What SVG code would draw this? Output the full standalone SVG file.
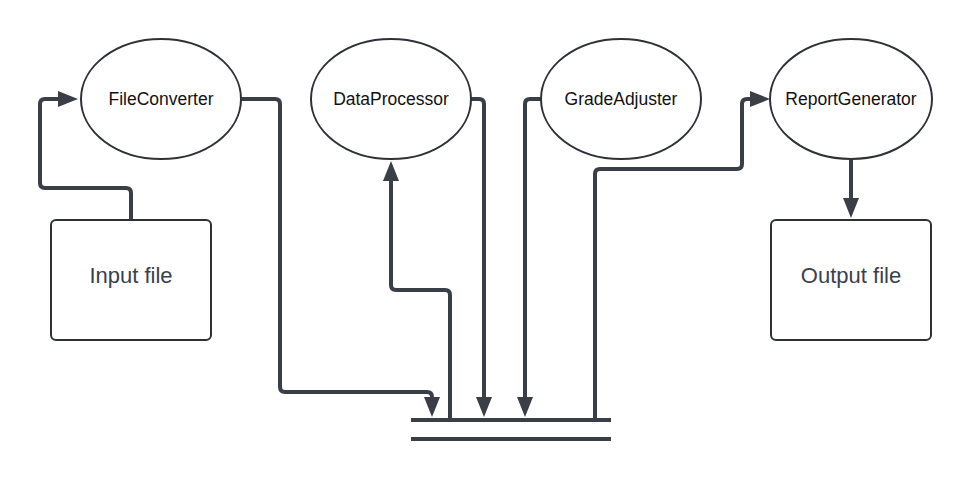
<svg xmlns="http://www.w3.org/2000/svg" width="971" height="480" viewBox="0 0 971 480">
<style>
.node{fill:#ffffff;stroke:#2e3136;stroke-width:2}
.lbl{font-family:"Liberation Sans",Arial,sans-serif;font-size:17.5px;fill:#111111;text-anchor:middle;dominant-baseline:central}
.blbl{font-family:"Liberation Sans",Arial,sans-serif;font-size:22px;fill:#3a414a;text-anchor:middle;dominant-baseline:central}
.conn{fill:none;stroke:#3a3f47;stroke-width:4}
.bar{stroke:#3a3f47;stroke-width:4}
</style>
<defs>
<marker id="arr" markerUnits="userSpaceOnUse" markerWidth="20" markerHeight="16" refX="0" refY="8" orient="auto">
<path d="M0,0 L20,8 L0,16 z" fill="#3a3f47"/>
</marker>
</defs>
<rect width="971" height="480" fill="#ffffff"/>
<g id="connectors">
<path class="conn" marker-end="url(#arr)" d="M131,220 V193 Q131,188 126,188 H45 Q40,188 40,183 V104 Q40,99 45,99 H58"/>
<path class="conn" marker-end="url(#arr)" d="M241,99 H275 Q280,99 280,104 V387 Q280,392 285,392 H427 Q432,392 432,397"/>
<path class="conn" marker-end="url(#arr)" d="M450,420 V295 Q450,290 445,290 H396 Q391,290 391,285 V181"/>
<path class="conn" marker-end="url(#arr)" d="M471,99 H479 Q484,99 484,104 V397"/>
<path class="conn" marker-end="url(#arr)" d="M541,99 H530 Q525,99 525,104 V397"/>
<path class="conn" marker-end="url(#arr)" d="M595,420 V174 Q595,169 600,169 H737 Q742,169 742,164 V104 Q742,99 747,99 H750"/>
<path class="conn" marker-end="url(#arr)" d="M851,160 V198"/>
</g>
<g id="bus">
<line class="bar" x1="411" y1="420" x2="611" y2="420"/>
<line class="bar" x1="411" y1="439" x2="611" y2="439"/>
</g>
<g id="FileConverter">
<ellipse class="node" cx="161" cy="99" rx="80" ry="60"/>
<text class="lbl" x="161" y="99">FileConverter</text>
</g>
<g id="DataProcessor">
<ellipse class="node" cx="391" cy="99" rx="80" ry="60"/>
<text class="lbl" x="391" y="99">DataProcessor</text>
</g>
<g id="GradeAdjuster">
<ellipse class="node" cx="621" cy="99" rx="80" ry="60"/>
<text class="lbl" x="621" y="99">GradeAdjuster</text>
</g>
<g id="ReportGenerator">
<ellipse class="node" cx="851" cy="99" rx="81" ry="60"/>
<text class="lbl" x="851" y="99">ReportGenerator</text>
</g>
<g id="InputFile">
<rect class="node" x="51" y="220" width="160" height="120" rx="5"/>
<text class="blbl" x="131" y="275">Input file</text>
</g>
<g id="OutputFile">
<rect class="node" x="771" y="220" width="160" height="120" rx="5"/>
<text class="blbl" x="851" y="275">Output file</text>
</g>
</svg>
